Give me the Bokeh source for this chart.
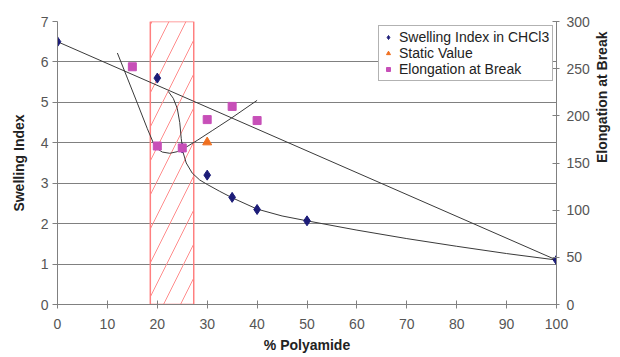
from bokeh.plotting import figure
from bokeh.models import Range1d, LinearAxis, Legend, LegendItem, FixedTicker
from bokeh.embed import file_html
from bokeh.resources import INLINE

# ---- data ----
polyamide_swelling = [0, 20, 25, 30, 35, 40, 50, 100]
swelling_index = [6.5, 5.6, 3.87, 3.2, 2.65, 2.35, 2.07, 1.1]

polyamide_elong = [15, 20, 25, 30, 35, 40]
elongation = [252, 168, 166, 196, 210, 195]

polyamide_static = [30]
static_value = [172]

# straight trend line (left axis)
linear_x = [0, 100]
linear_y = [6.5, 1.1]

# swelling trend curve (left axis)
swell_curve_x = [22.2, 23.2, 24.0, 24.5, 24.8, 25.2, 25.8, 27.0, 28.5, 30.0, 32.5, 35.0, 40.0, 45.0, 50.0, 60.0, 70.0, 80.0, 90.0, 100.0]
swell_curve_y = [5.27, 5.10, 4.85, 4.50, 4.10, 3.75, 3.50, 3.25, 3.08, 2.97, 2.80, 2.64, 2.36, 2.19, 2.07, 1.84, 1.63, 1.44, 1.26, 1.10]

# elongation trend curve (right axis)
elong_curve_x = [12, 14, 16, 18, 19.2, 20, 21, 22.5, 24, 25.5, 28, 31, 34.6, 40]
elong_curve_y = [266.6, 240, 213.4, 186.4, 171.4, 165, 161.6, 160.3, 162, 165.9, 174, 184.3, 196.7, 216.4]

# hatched band
band_left = [18.6]
band_right = [27.3]
band_bottom = [0]
band_top = [7]

x_ticks = [0, 10, 20, 30, 40, 50, 60, 70, 80, 90, 100]
left_ticks = [0, 1, 2, 3, 4, 5, 6, 7]
right_ticks = [0, 50, 100, 150, 200, 250, 300]

FONT = "Liberation Sans"
GRID = "#808080"
TICKTXT = "#555555"

p = figure(width=620, height=357, x_range=Range1d(0, 100), y_range=Range1d(0, 7),
           output_backend="svg", toolbar_location=None,
           min_border_left=57, min_border_right=63, min_border_top=21, min_border_bottom=53)
p.extra_y_ranges = {"right": Range1d(0, 300)}
p.outline_line_color = None
p.xgrid.visible = False
p.ygrid.grid_line_color = GRID
p.ygrid.grid_line_width = 1
p.ygrid.ticker = FixedTicker(ticks=left_ticks)

# band
p.quad(left=band_left, right=band_right, bottom=band_bottom, top=band_top,
       fill_alpha=0, line_color="#FF7F7F", line_width=1.5,
       hatch_pattern="/", hatch_color="#FF8C8C", hatch_scale=34, hatch_weight=1)

# trend lines
p.line(linear_x, linear_y, line_color="#3a3a3a", line_width=1)
p.line(swell_curve_x, swell_curve_y, line_color="#3a3a3a", line_width=1)
p.line(elong_curve_x, elong_curve_y, y_range_name="right", line_color="#3a3a3a", line_width=1)

# data markers
r_sw = p.scatter(polyamide_swelling, swelling_index, marker="diamond", size=10,
                 fill_color="#1c1c78", line_color="#1c1c78")
r_el = p.scatter(polyamide_elong, elongation, y_range_name="right", marker="square", size=8,
                 fill_color="#C74FB8", line_color="#C74FB8")
r_st = p.scatter(polyamide_static, static_value, y_range_name="right", marker="triangle", size=9,
                 fill_color="#F07020", line_color="#F07020")

# axes
def style_axis(ax):
    ax.axis_line_color = GRID
    ax.major_tick_line_color = GRID
    ax.minor_tick_line_color = None
    ax.major_label_text_font = FONT
    ax.major_label_text_font_size = "14px"
    ax.major_label_text_color = TICKTXT
    ax.axis_label_text_font = FONT
    ax.axis_label_text_font_size = "14px"
    ax.axis_label_text_font_style = "bold"
    ax.axis_label_text_color = "#222222"

xa = p.xaxis[0]
xa.ticker = FixedTicker(ticks=x_ticks)
xa.axis_label = "% Polyamide"
style_axis(xa)
xa.major_tick_in = 4
xa.major_tick_out = 4
xa.major_label_standoff = 10
xa.axis_label_standoff = 5

ya = p.yaxis[0]
ya.ticker = FixedTicker(ticks=left_ticks)
ya.axis_label = "Swelling Index"
style_axis(ya)
ya.major_tick_in = 0
ya.major_tick_out = 5
ya.major_label_standoff = 4
ya.axis_label_standoff = 11

ra = LinearAxis(y_range_name="right", ticker=FixedTicker(ticks=right_ticks),
                axis_label="Elongation at Break")
style_axis(ra)
ra.major_tick_in = 4
ra.major_tick_out = 3
ra.major_label_standoff = 7
ra.axis_label_standoff = 9
ra.axis_label_orientation = 1.5708
p.add_layout(ra, "right")

legend = Legend(items=[
    LegendItem(label="Swelling Index in CHCl3", renderers=[r_sw]),
    LegendItem(label="Static Value", renderers=[r_st]),
    LegendItem(label="Elongation at Break", renderers=[r_el]),
], location=(321, 223))
legend.label_text_font = FONT
legend.label_text_font_size = "14px"
legend.label_text_color = "#222222"
legend.glyph_width = 12
legend.glyph_height = 10
legend.label_height = 14
legend.label_standoff = 5
legend.spacing = 0
legend.padding = 3
legend.margin = 0
legend.border_line_color = "#666666"
legend.border_line_width = 1
legend.background_fill_color = "white"
legend.background_fill_alpha = 1
p.add_layout(legend)

open("out.html", "w").write(file_html(p, INLINE))
